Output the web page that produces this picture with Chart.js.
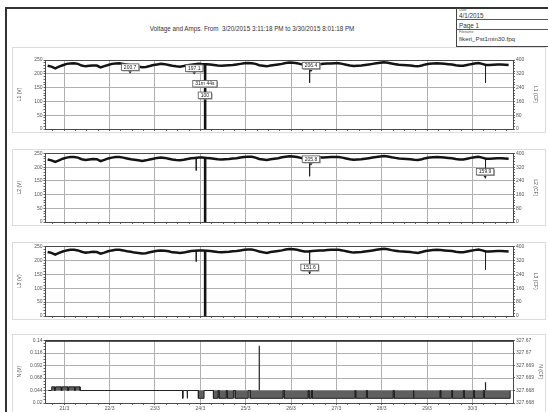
<!DOCTYPE html>
<html>
<head>
<meta charset="utf-8">
<script src="https://cdn.jsdelivr.net/npm/chart.js@4/dist/chart.umd.min.js"></script>
<style>
  html, body { margin: 0; padding: 0; background: #fff; }
  body { width: 548px; height: 412px; position: relative; overflow: hidden;
         font-family: "Liberation Sans", Arial, sans-serif; color: #333; }
  .page { position: absolute; left: 5px; top: 7px; width: 600px; height: 500px;
          border-left: 2px solid #333; border-top: 2px solid #333; }
  .hdr { position: absolute; left: 456px; top: 8px; width: 120px; height: 38px;
         border-left: 1px solid #444; border-bottom: 1px solid #444; }
  .hline { position: absolute; left: 456px; width: 120px; height: 0; border-top: 1px solid #555; }
  .txt { position: absolute; white-space: nowrap; line-height: 1; }
  .frame { position: absolute; left: 12px; width: 534px; border: 1px solid #dcdcdc; box-sizing: border-box; }
  canvas { position: absolute; left: 12px; }
</style>
</head>
<body>
<div class="page"></div>
<div class="hdr"></div>
<div class="hline" style="top:19px"></div>
<div class="hline" style="top:29px"></div>
<div class="txt" style="left:459px;top:9px;font-size:3.5px;color:#555">Date</div>
<div class="txt" style="left:459px;top:12.5px;font-size:6.3px">4/1/2015</div>
<div class="txt" style="left:459px;top:23px;font-size:6.3px">Page 1</div>
<div class="txt" style="left:459px;top:30.5px;font-size:3.5px;color:#555">Filename</div>
<div class="txt" style="left:459px;top:36px;font-size:6.2px">fikeri_Pst1min30.fpq</div>
<div class="txt" style="left:252px;top:26px;font-size:6.3px;transform:translateX(-50%)">Voltage and Amps. From&nbsp; 3/20/2015 3:11:18 PM to 3/30/2015 8:01:18 PM</div>

<div class="frame" style="top:47px;height:86px"></div>
<div class="frame" style="top:149px;height:77px"></div>
<div class="frame" style="top:242px;height:78px"></div>
<div class="frame" style="top:334px;height:82px"></div>

<canvas id="c1" width="534" height="86" style="top:47px"></canvas>
<canvas id="c2" width="534" height="77" style="top:149px"></canvas>
<canvas id="c3" width="534" height="78" style="top:242px"></canvas>
<canvas id="c4" width="534" height="82" style="top:334px"></canvas>

<script>
// ---- time base: days counted from 20/3/2015 00:00 ----
const T0 = 0.633;            // 20/3 15:11
const STEP = 1 / 12;         // one sample every 2 hours
const T_END = 10.834;        // 30/3 20:01
const AXIS_MIN = 0.585, AXIS_MAX = 10.896;
const dayLabels = ['21/3', '22/3', '23/3', '24/3', '25/3', '26/3', '27/3', '28/3', '29/3', '30/3'];

// ---- phase voltages (V), 2-hourly ----
const L1 = [229,226,220,226,231,236,237,238,236,230, 227,229,230,230,223,228,232,236,237,238,
            236,233,230,228,226,224,225,228,232,234, 236,235,232,229,227,226,228,231,233,235,
            236,235,235,234,232,230,229,230,231,232, 234,236,238,239,238,236,231,229,227,230,
            232,234,236,239,241,240,238,235,232,232, 234,235,235,236,237,237,238,238,236,233,
            230,228,229,230,232,234,236,238,240,242, 240,237,235,233,232,231,230,228,227,230,
            234,236,237,238,237,236,235,234,231,229, 229,232,235,237,239,236,232,232,233,234,
            234,233,232];
const L2 = [228,225,219,225,231,235,237,237,235,229, 226,228,230,229,222,227,232,235,237,237,
            235,232,229,227,225,223,225,228,231,234, 235,234,231,228,226,225,227,230,233,234,
            235,235,234,233,231,229,228,229,230,232, 233,235,237,238,238,235,230,228,226,229,
            231,233,236,238,240,239,237,234,231,231, 233,234,235,235,236,237,237,237,235,232,
            229,227,228,229,231,233,235,237,239,241, 239,236,234,232,231,230,229,227,226,229,
            233,235,236,237,236,235,234,233,230,228, 228,231,234,236,238,235,231,231,232,233,
            233,232,231];
const L3 = [230,227,221,227,232,236,238,238,236,231, 228,229,231,230,224,228,233,236,238,238,
            236,233,231,228,227,225,226,229,232,235, 236,235,233,229,228,227,228,231,234,235,
            236,236,235,234,232,230,229,230,231,233, 234,236,238,239,239,236,232,229,227,230,
            232,234,236,239,241,240,238,235,232,232, 234,235,236,236,237,238,238,238,236,233,
            230,228,229,230,232,234,236,238,240,242, 240,237,235,233,232,231,230,228,227,230,
            234,236,237,238,237,236,235,234,231,229, 229,232,235,237,239,236,232,232,233,234,
            234,233,232];

// short dips: [time, level before, lowest level]
const L1_dips = [[6.41, 236, 168], [10.29, 233, 168]];
const L2_dips = [[3.91, 235, 188], [6.41, 236, 167], [10.29, 233, 160]];
const L3_dips = [[3.91, 235, 196], [6.41, 236, 151.6], [10.29, 233, 167]];

// interruption on 24/3 (31m 44s)
const outage = [[4.095, 236], [4.095, 0], [4.117, 0], [4.117, 236]];

// event notes: [time, value, text, with marker]
const L1_notes = [[2.451, 200.7, '200.7', true], [3.865, 197.1, '197.1', true],
                  [6.44, 206.4, '206.4', true], [4.10, 164, '31m 44s', false], [4.10, 122, '100', false]];
const L2_notes = [[6.44, 205.8, '205.8', true], [10.28, 159.9, '159.9', true]];
const L3_notes = [[6.41, 151.6, '151.6', true]];

// ---- neutral voltage (V) ----
const N_BASE = 0.044;
const N_START = 0.647;
const N_high = [[0.722, 0.785], [0.805, 0.935], [0.952, 1.08], [1.097, 1.228], [1.245, 1.347]];
const N_HIGH_LEVEL = 0.051;
const N_low = [[3.610, 3.618], [3.710, 3.718], [3.957, 4.082], [4.289, 4.387], [4.412, 4.572],
               [4.592, 4.730], [4.768, 5.057], [5.099, 5.822], [5.847, 6.377], [6.397, 6.452],
               [6.472, 7.407], [7.427, 7.662], [7.682, 8.252], [8.272, 8.692], [8.712, 9.282],
               [9.302, 9.542], [9.562, 9.802], [9.822, 10.022], [10.042, 10.242], [10.262, 10.834]];
const N_LOW_LEVEL = 0.029;
const N_spikes = [[5.30, 0.13], [10.29, 0.06]];
const N_CF = 327.670;

// ---- axis tick labels ----
const voltLabels = ['0', '50', '100', '150', '200', '250'];
const cfLabels = ['0', '80', '160', '240', '320', '400'];
const nLabels = ['0.02', '0.044', '0.068', '0.092', '0.116', '0.14'];
const nCfLabels = ['327.668', '327.668', '327.669', '327.669', '327.67', '327.67'];

// ---- styling ----
const FONT = "'Liberation Sans', Arial, sans-serif";
const INK = '#141414', AXIS = '#4a4a4a', GRID = '#b0b0b0', TXT = '#555';
const CLEAR = 'rgba(0,0,0,0)';
const tickFont = { size: 5, family: FONT };

const quarterTicks = [];
for (let k = 3; k <= 43; k++) quarterTicks.push(k / 4);

function timeAxis(showLabels) {
  return {
    type: 'linear', min: AXIS_MIN, max: AXIS_MAX,
    afterBuildTicks: s => { s.ticks = quarterTicks.map(v => ({ value: v })); },
    grid: { color: c => (c.tick && Number.isInteger(c.tick.value)) ? GRID : CLEAR,
            tickColor: '#666', tickLength: 2, lineWidth: 1 },
    border: { color: AXIS, width: 1 },
    ticks: { display: showLabels, autoSkip: false, maxRotation: 0, padding: 0.5,
             font: tickFont, color: TXT,
             callback: v => Number.isInteger(v) ? dayLabels[v - 1] : '' },
    afterFit: s => { s.height = showLabels ? 13 : 3; }
  };
}

function stepAxis(pos, min, max, count, major, labels, title, width, titlePad, onArea) {
  return {
    type: 'linear', position: pos, min: min, max: max,
    afterBuildTicks: s => {
      const t = [];
      for (let k = 0; k <= count; k++) t.push({ value: min + (max - min) * k / count });
      s.ticks = t;
    },
    grid: {
      drawOnChartArea: onArea,
      color: c => (c.index % major === 0) ? (c.index === count ? AXIS : GRID) : CLEAR,
      tickColor: '#666', tickLength: 2, lineWidth: 1
    },
    border: { color: AXIS, width: 1 },
    ticks: { autoSkip: false, padding: 1, font: tickFont, color: TXT,
             callback: (v, i) => (i % major === 0) ? labels[i / major] : '' },
    title: { display: true, text: title, font: tickFont, color: TXT,
             padding: { top: titlePad, bottom: 0 } },
    afterFit: s => { s.width = width; }
  };
}

// boxed value notes with a small marker underneath
const notePlugin = {
  id: 'notes',
  afterDatasetsDraw(chart, args, opts) {
    const { ctx, scales } = chart;
    const x = scales.x, y = scales.y;
    ctx.save();
    ctx.font = '5px ' + FONT;
    ctx.textAlign = 'center';
    ctx.textBaseline = 'middle';
    (opts.items || []).forEach(([t, v, text, marker]) => {
      const px = x.getPixelForValue(t), py = y.getPixelForValue(v);
      let by = py;
      if (marker) {
        ctx.fillStyle = '#222';
        ctx.beginPath();
        ctx.moveTo(px - 1.8, py - 2.4);
        ctx.lineTo(px + 1.8, py - 2.4);
        ctx.lineTo(px, py);
        ctx.closePath();
        ctx.fill();
        by = py - 6.5;
      }
      const w = ctx.measureText(text).width + 5, h = 6.5;
      ctx.fillStyle = '#9a9a9a';
      ctx.fillRect(px - w / 2 + 1, by - h / 2 + 1, w, h);
      ctx.fillStyle = '#fff';
      ctx.fillRect(px - w / 2, by - h / 2, w, h);
      ctx.strokeStyle = '#555';
      ctx.lineWidth = 0.8;
      ctx.strokeRect(px - w / 2, by - h / 2, w, h);
      ctx.fillStyle = '#222';
      ctx.fillText(text, px, by + 0.3);
    });
    ctx.restore();
  }
};

function segments(list) {
  return list.flatMap(([t, a, b]) => [{ x: t, y: a }, { x: t, y: b }, { x: t, y: null }]);
}

function voltChart(id, series, dips, notes, leftTitle, rightTitle, padTop, padBottom) {
  return new Chart(document.getElementById(id), {
    type: 'line',
    data: {
      datasets: [
        { data: series.map((v, i) => ({ x: T0 + i * STEP, y: v })),
          borderColor: INK, borderWidth: 2.5, yAxisID: 'y' },
        { data: segments(dips), borderColor: '#222', borderWidth: 1, yAxisID: 'y', spanGaps: false },
        { data: outage.map(([t, v]) => ({ x: t, y: v })), borderColor: INK, borderWidth: 1.6, yAxisID: 'y' }
      ]
    },
    options: {
      responsive: false, animation: false, events: [],
      elements: { point: { radius: 0 }, line: { tension: 0 } },
      layout: { padding: { top: padTop, bottom: padBottom, left: 0, right: 0 } },
      plugins: { legend: { display: false }, tooltip: { enabled: false }, notes: { items: notes } },
      scales: {
        x: timeAxis(false),
        y: stepAxis('left', 0, 250, 25, 5, voltLabels, leftTitle, 33.5, 5, true),
        y2: stepAxis('right', 0, 400, 25, 5, cfLabels, rightTitle, 33, 8, false)
      }
    },
    plugins: [notePlugin]
  });
}

voltChart('c1', L1, L1_dips, L1_notes, 'L1 (V)', 'L1 (CF)', 13, 0);
voltChart('c2', L2, L2_dips, L2_notes, 'L2 (V)', 'L2 (CF)', 4.5, 1);
voltChart('c3', L3, L3_dips, L3_notes, 'L3 (V)', 'L3 (CF)', 4.5, 1);

// neutral: flat trace with blocks of activity around the base level
const nBlocks = N_high.map(([a, b]) => [a, b, N_HIGH_LEVEL])
  .concat(N_low.map(([a, b]) => [a, b, N_LOW_LEVEL]))
  .sort((p, q) => p[0] - q[0]);
const nTrace = [{ x: N_START, y: N_BASE }];
nBlocks.forEach(([a, b, lv]) => {
  nTrace.push({ x: a, y: N_BASE }, { x: a, y: lv }, { x: b, y: lv }, { x: b, y: N_BASE });
});
if (nTrace[nTrace.length - 1].x < T_END) nTrace.push({ x: T_END, y: N_BASE });

new Chart(document.getElementById('c4'), {
  type: 'line',
  data: {
    datasets: [
      { data: nTrace, borderColor: '#222', borderWidth: 1, yAxisID: 'y',
        fill: { value: N_BASE }, backgroundColor: '#5f5f5f' },
      { data: segments(N_spikes.map(([t, v]) => [t, N_BASE, v])), borderColor: '#222',
        borderWidth: 1.2, yAxisID: 'y', spanGaps: false },
      { data: [{ x: AXIS_MIN, y: N_CF }, { x: AXIS_MAX, y: N_CF }], borderColor: '#222',
        borderWidth: 2.4, yAxisID: 'y2' }
    ]
  },
  options: {
    responsive: false, animation: false, events: [],
    elements: { point: { radius: 0 }, line: { tension: 0 } },
    layout: { padding: { top: 6.5, bottom: 0, left: 0, right: 0 } },
    plugins: { legend: { display: false }, tooltip: { enabled: false } },
    scales: {
      x: timeAxis(true),
      y: stepAxis('left', 0.02, 0.14, 20, 4, nLabels, 'N (V)', 33.5, 5, true),
      y2: stepAxis('right', 327.668, 327.670, 5, 1, nCfLabels, 'N (CF)', 33, 3, false)
    }
  }
});
</script>
</body>
</html>
